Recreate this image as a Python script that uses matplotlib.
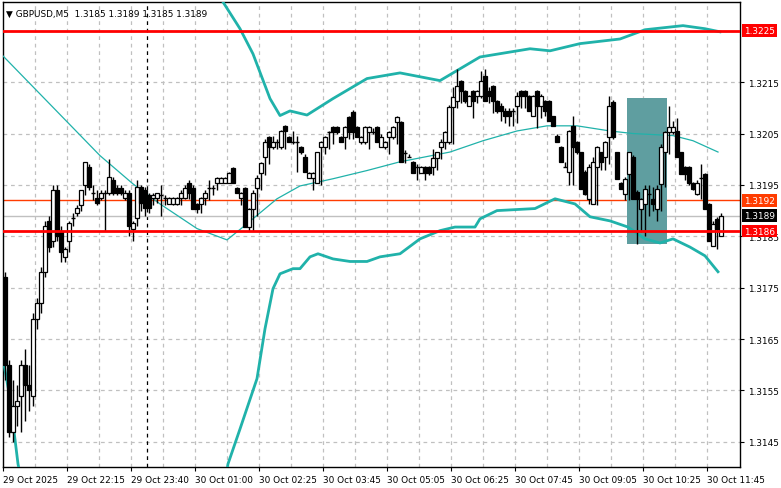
import matplotlib
matplotlib.use("Agg")
import matplotlib.pyplot as plt
from matplotlib.patches import Rectangle

BASE = 1.3100  # prices below are in pips above this base

opens = [77,60,47,52,54,60,56,54,69,72, 78,88,84,94,86,81,84,88.5,89.5,91,
         95,98.5,93.5,92.5,92.5,93.5,93.5,96,94.4,94.4, 92.5,93.5,86.5,88.5,94.5,94,93,92.5,92.5,93,92.5,
         91.3,91.3,91.3,92.5,92.5,95.4,94.4,91.3,91.3,92.5, 94.4,94.4,95.4,95.4,95.4,95.4,98.3,94.4,92.5,94.4,
         86.8,90.4,94.4,97.4,100.5,104.4,102.4,103.4,102.4,106.5, 104.4,103.4,103.4,102.4,100.5,96.4,96.4,95.4,102.4,102.4,
         105.3,106.3,106.3,104.4,104.4,108.3,109.2,106.3,103.4,103.4, 105.3,105.3,106.3,102.4,102.4,104.4,104.4,107.3,107.3,101.3,
         100.5,99.5,98.4,97.4,98.5,98.5,98.5,100.3,102.4,103.4, 103.4,110.2,111.4,115.3,113.3,110.4,113.3,112.3,112.3,116.2,
         113.3,114.3,111.4,110.4,109.4,109.4,109.4,110.4,113.3,113.3, 112.3,108.4,113.3,110.4,111.4,111.4,108.4,104.5,102.4,98.5,
         97.5,106.5,103.4,101.4,97.5,92.3,91.3,98.5,101.4,100.5, 104.4,111.2,101.4,95.4,93.3,97.2,100.5,93.6,90.4,91.3,
         93.3,92.3,90.4,95.2,101.4,105.3,105.3,105.5,101.4,98.5, 98.5,95.4,93.3,96.4,97.2,91.3,83.2,88.4,85]
highs = [78,61,57,56,61,63,60,70,73,79, 88,89,95,95,87,83,88,89.5,91,94,
         99.5,99,95,94,94,94,100,96.5,95,95, 94,94,88,96,95,94.5,93.5,93.5,93.5,95,93,
         92.7,92.7,92.7,94,95,96,95,91.5,92.7,94, 96,95,96.5,96.5,96.5,97.5,98.5,94.5,93.7,94.5,
         90.5,94,97,99.5,104,104.5,104.5,104,105.7,106.7, 104.5,105.5,104.5,102.5,101,97.5,97.5,101.5,103.5,104.5,
         105.5,106.5,106.5,104.5,106.5,108.5,109.5,106.5,104.5,106.5, 106.5,106,106.5,105,103.5,105.5,106.5,108.5,107.5,101.8,
         101,99.7,99,98.7,98.7,98.7,102,101.5,104,105.5, 110.5,114,117.6,115.5,113.5,112.5,113.5,113.5,117.2,117.5,
         114,114.5,111.5,111,110,110,110,113,113.5,113.5, 112.5,112.5,113.5,112.7,111.5,111.5,108.5,105,102.5,99.5,
         105.6,108.4,103.5,101.5,98,99,100.5,102.5,101.5,103.5, 112.3,111.5,101.5,95.5,96.5,101.5,100.8,94,92.5,95,
         95,94.5,95,103,105.5,110.4,107.5,108,101.5,98.7, 98.7,95.5,96,99,97.3,91.5,88,88.7,89.5]
lows = [57,46,45,48,47,49,51,52,67,70, 77,82,83,84,80,80,82,87,89,90,
        93,94,92,91,92,86,93,93,93,93, 92,85,84,87,90,89,89.5,91,91.5,89,91,
        91.5,91,91,91,92.3,92.3,93,89.5,89.5,91, 92,93,94,95.3,95.3,95.3,95.3,95.3,91,91,
        86,86,89,94,97,99,102,102,102,102, 105,103,97.5,101,101,97,94,96,95,101,
        102,103,105,105,102,104,104,104.5,103,103, 102,105,103.5,103,102,101,104,103,107,99.3,
        100.5,100,96,97.5,96,97,97,98,100,102, 103,103,110,111,111,111,108,111,112,112,
        111,109,109,107.5,107,106.5,106.5,107,110,110, 110,109,106,108,108.5,107.5,107,104,102,98.5,
        95,95,101,100,93,91.3,92,91,98,98, 99,104,104,96,92,92,93,83.5,85.8,85,
        89,90,88,90,94.5,101,105,105,100,96, 95,94,93,92.3,94,90,84,82.5,85]
closes = [60,47,52,53,60,56,55,69,72,78, 87,83,94,85,82,82.5,87.5,88.5,90.5,94,
          99.5,94.5,93.5,91.5,93.5,93.5,96.5,93.5,93.5,93.5, 93.5,87,87.5,94.5,91.5,90.5,90.5,93,93.5,93,92.5,
          92.5,92.5,92.5,93.5,94.4,93.5,90.4,90.4,92.5, 93.5,94.4,94.6,96.4,96.4,96.4,97.4,95.4,93.5,93.5,
          86.8,90.4,93.5,96.4,99.3,103.4,102.4,103.4,103.4,105.5, 105.5,103.4,103.4,103.4,101.4,97.6,97.4,97.4,101.4,103.4,
          104.4,105.3,105.3,105.3,103.4,106.3,105.3,105.3,104.4,104.4, 106.3,106.3,105.3,103.4,104.4,103.4,105.3,106.3,108.3,99.5,
          101.3,100.5,97.4,98.4,98.5,97.4,97.4,100.3,101.4,103.4, 105.3,110.2,112.2,114.3,113.3,111.4,112.4,111.4,113.3,115.3,
          111.4,112.4,111.4,109.4,109.4,108.4,108.4,109.4,112.4,112.4, 112.4,109.4,112.3,110.4,112.4,109.4,107.5,106.5,103.4,99.5,
          98.5,105.5,102.4,101.4,94.2,93.3,98.5,99.5,102.4,99.5, 103.4,110.3,104.4,96.2,94.2,96.2,101.4,92.3,92.3,92.3,
          94.2,93.3,91.3,94.2,102.4,105.3,106.3,106.3,100.5,97.2, 97.2,95.4,94.2,95.4,96.4,90.4,84.1,87.4,86.5,89]

# Bollinger bands, x in bar index
mid_x = [-0.5,15.5,23.75,32,38.75,48,55.5,59.5,68,73.75,82,90.5,98.75,111.25,119.5,128,135.5,143,151.25,157,167,172,178.25]
mid_y = [120.1,107.3,100.7,95.2,91.3,86.5,84.3,86.8,92.3,94.8,96.2,97.8,99.5,101.4,103.6,105.5,106.5,106.5,105.5,105.0,104.6,103.6,101.4]
up_x = [52.5,54.5,58.75,62,66.25,68.75,71.25,75.5,82,90.5,98.75,108.75,113.75,118.75,131.25,136.25,143.75,153.75,160,169.5,175,178.75]
up_y = [135.1,130.6,125.4,120.5,111.8,108.5,109.4,108.6,111.8,115.7,116.8,115.3,117.6,119.9,121.5,121.1,122.5,123.4,125.2,126.0,125.4,124.8]
lo1_x = [-0.5,1.25,3.25,5]
lo1_y = [61.2,53.4,40.7,33.9]
lo2_x = [54.25,55.75,58.75,63,65,67,68.75,72,73.75,76.25,78.25,82,86.25,90.5,93.75,98.75,103.75,108.75,112.5,117.5,118.75,123,
         132.5,137.5,142.5,146.25,151.25,155.75,160,163.75,167,171.25,175,178.25]
lo2_y = [33.9,40.7,47.5,57.3,67,74.8,77.7,78.7,78.7,81.0,81.6,80.6,80.1,80.1,81.0,81.6,84.5,86.1,86.8,86.8,88.4,90.0,
         90.4,92.3,91.3,88.8,88.0,86.8,84.5,83.7,84.5,82.9,81.2,78.1]

time_labels = ["29 Oct 2025","29 Oct 22:15","29 Oct 23:40","30 Oct 01:00","30 Oct 02:25","30 Oct 03:45",
               "30 Oct 05:05","30 Oct 06:25","30 Oct 07:45","30 Oct 09:05","30 Oct 10:25","30 Oct 11:45"]
price_ticks = [1.3145,1.3155,1.3165,1.3175,1.3185,1.3195,1.3205,1.3215]
res_level, sup_level, mid_level, bid_level = 1.3225, 1.3186, 1.3192, 1.3189
box_x = (155.5, 165.5)
box_y = (1.31835, 1.3212)

FS = 6.4

def P(v):
    return [BASE + a / 10000 for a in v]

fig = plt.figure(figsize=(7.81, 4.89), dpi=100)
ax = fig.add_axes([3/781, 1 - 468/489, 737/781, 465/489])
ax.set_xlim(-0.5, 183.75)
ax.set_ylim(BASE + 40.1/10000, BASE + 130.6/10000)

for k in range(1, 23):
    ax.axvline(-0.5 + 8*k, color="#c0c0c0", lw=0.9, ls=(0, (3, 3)), zorder=0)
for p in price_ticks + [1.3225]:
    ax.axhline(p, color="#c0c0c0", lw=0.9, ls=(0, (3, 3)), zorder=0)
ax.axvline(35.5, color="black", lw=0.9, ls=(0, (3, 3)), zorder=1)

ax.add_patch(Rectangle((box_x[0], box_y[0]), box_x[1]-box_x[0], box_y[1]-box_y[0],
                       facecolor="#5f9ea0", edgecolor="none", zorder=2))

ax.axhline(bid_level, color="#c0c0c0", lw=1.0, zorder=1)
ax.axhline(mid_level, color="#ff3c00", lw=1.0, zorder=1)
ax.axhline(res_level, color="#ff0000", lw=2.0, zorder=5)
ax.axhline(sup_level, color="#ff0000", lw=2.0, zorder=5)

teal = "#20b2aa"
ax.plot(mid_x, P(mid_y), color=teal, lw=0.9, zorder=3)
ax.plot(up_x, P(up_y), color=teal, lw=2.0, zorder=3)
ax.plot(lo1_x, P(lo1_y), color=teal, lw=2.0, zorder=3)
ax.plot(lo2_x, P(lo2_y), color=teal, lw=2.0, zorder=3)

n = min(len(opens), len(highs), len(lows), len(closes))
O, H, L, C = P(opens[:n]), P(highs[:n]), P(lows[:n]), P(closes[:n])
for i in range(n):
    lo, hi = min(O[i], C[i]), max(O[i], C[i])
    ax.vlines(i, min(L[i], lo), max(H[i], hi), color="black", lw=1.0, zorder=4)
    if hi - lo < 0.00003:
        ax.hlines(O[i], i-0.45, i+0.45, color="black", lw=1.0, zorder=4)
    else:
        fc = "white" if C[i] > O[i] else "black"
        ax.add_patch(Rectangle((i-0.42, lo), 0.84, hi-lo, facecolor=fc, edgecolor="black", lw=0.9, zorder=4))

ax.yaxis.tick_right()
ax.set_yticks(price_ticks)
ax.set_yticklabels([f"{p:.4f}" for p in price_ticks], fontsize=FS)
ax.tick_params(axis="y", length=3, pad=3)
ax.set_xticks([-0.5 + 16*k for k in range(len(time_labels))])
ax.set_xticklabels(time_labels, fontsize=FS, ha="left")
ax.tick_params(axis="x", length=3, pad=3)
for s in ax.spines.values():
    s.set_linewidth(1.0)

def tag(p, txt, bg):
    ax.annotate(txt, xy=(1, p), xycoords=("axes fraction", "data"), xytext=(3, 0), textcoords="offset points",
                ha="left", va="center", fontsize=FS, color="white",
                bbox=dict(boxstyle="square,pad=0.2", fc=bg, ec="none"), annotation_clip=False, zorder=10)
tag(res_level, "1.3225", "#ff0000")
tag(mid_level, "1.3192", "#ff3c00")
tag(bid_level, "1.3189", "#000000")
tag(sup_level, "1.3186", "#ff0000")

ax.text(0.004, 0.985, "▼ GBPUSD,M5  1.3185 1.3189 1.3185 1.3189", transform=ax.transAxes,
        fontsize=FS, va="top", ha="left", zorder=10)

fig.savefig("out.png", dpi=100)
